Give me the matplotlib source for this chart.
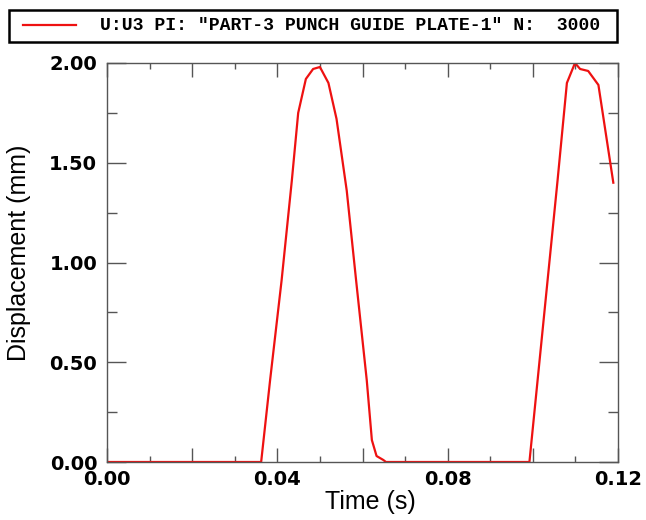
import matplotlib
matplotlib.use("Agg")
import matplotlib.pyplot as plt
from matplotlib.lines import Line2D
from matplotlib.patches import Rectangle
from matplotlib.ticker import MultipleLocator, FixedLocator, FixedFormatter

# displacement history (time in s, U3 in mm)
time_s = [0.0, 0.0362, 0.0383, 0.0410, 0.0434, 0.0449, 0.0467, 0.0484, 0.0500,
          0.0520, 0.0539, 0.0563, 0.0585, 0.0610, 0.0622, 0.0633, 0.0649, 0.0655,
          0.0992, 0.1058, 0.1080, 0.1099, 0.1111, 0.1130, 0.1154,
          0.1189]
disp_mm = [0.0, 0.0, 0.41, 0.91, 1.41, 1.75, 1.92, 1.97, 1.98,
           1.90, 1.72, 1.36, 0.91, 0.41, 0.11, 0.03, 0.01, 0.0,
           0.0, 1.41, 1.90, 2.00, 1.97, 1.96, 1.89,
           1.40]

series_label = 'U:U3 PI: "PART-3 PUNCH GUIDE PLATE-1" N:  3000'
x_label_ticks = [0.00, 0.02, 0.04, 0.06, 0.08, 0.10, 0.12]
x_label_text = ["0.00", "", "0.04", "", "0.08", "", "0.12"]

W, H = 646, 520
fig = plt.figure(figsize=(W / 100, H / 100), dpi=100)
ax = fig.add_axes([107 / W, 1 - 462 / H, 511 / W, 399 / H])

line, = ax.plot(time_s, disp_mm, color="#ee1111", lw=1.6)

ax.set_xlim(0, 0.12)
ax.set_ylim(0, 2.0)

ax.xaxis.set_major_locator(FixedLocator(x_label_ticks))
ax.xaxis.set_major_formatter(FixedFormatter(x_label_text))
ax.xaxis.set_minor_locator(MultipleLocator(0.01))
ax.yaxis.set_major_locator(MultipleLocator(0.5))
ax.yaxis.set_minor_locator(MultipleLocator(0.25))
ax.yaxis.set_major_formatter(plt.FormatStrFormatter("%.2f"))

ax.tick_params(axis="x", which="major", direction="in", top=True, length=10,
               width=1.0, color="#555555", pad=6)
ax.tick_params(axis="x", which="minor", direction="in", top=True, length=4.5,
               width=1.0, color="#555555")
ax.tick_params(axis="y", which="major", direction="in", right=True, length=14,
               width=1.0, color="#555555", pad=7)
ax.tick_params(axis="y", which="minor", direction="in", right=True, length=7,
               width=1.0, color="#555555")
for lab in ax.get_xticklabels() + ax.get_yticklabels():
    lab.set_fontfamily("DejaVu Sans")
    lab.set_fontweight("bold")
    lab.set_fontsize(14)

for sp in ax.spines.values():
    sp.set_color("#555555")
    sp.set_linewidth(1.0)

ax.set_xlabel("Time (s)", fontfamily="Liberation Sans", fontsize=18)
ax.xaxis.set_label_coords(0.515, -0.07)
ax.set_ylabel("Displacement (mm)", fontfamily="Liberation Sans", fontsize=18)
ax.yaxis.set_label_coords(-0.149, 0.525)

# legend box across the top (drawn in figure pixels)
fig.add_artist(Rectangle((9 / W, 1 - 42 / H), 608 / W, 32 / H, transform=fig.transFigure,
                         facecolor="white", edgecolor="black", linewidth=1.8))
fig.add_artist(Line2D([23 / W, 76 / W], [1 - 25 / H, 1 - 25 / H], transform=fig.transFigure,
                      color=line.get_color(), lw=line.get_linewidth()))
fig.text(100 / W, 1 - 26 / H, series_label, ha="left", va="center",
         fontfamily="Liberation Mono", fontweight="bold", fontsize=13.1)

fig.savefig("out.png", dpi=100, facecolor="white")
